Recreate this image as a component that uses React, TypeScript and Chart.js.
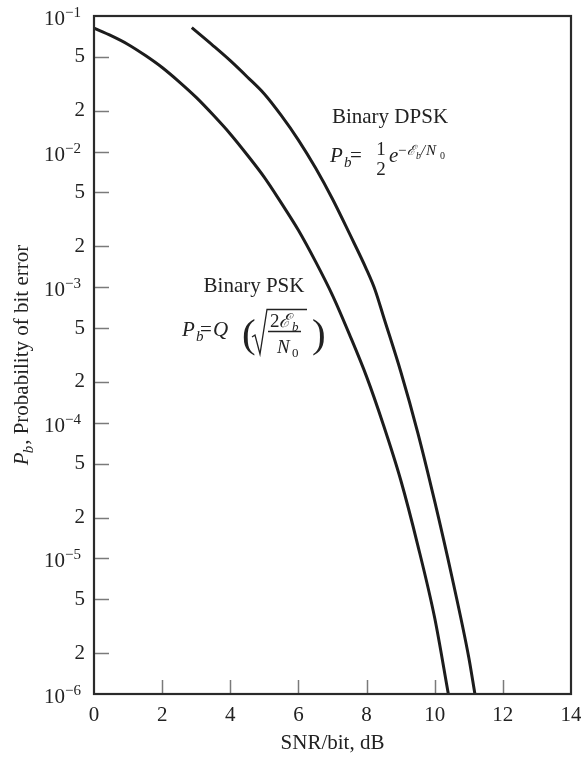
import React, { useEffect, useRef } from "react";
import { Chart, registerables } from "chart.js";

Chart.register(...registerables);

// ---- data ----
const pskSnr = [0, 0.5, 1, 1.5, 2, 2.5, 3, 3.5, 4, 4.5, 5, 5.5, 6, 6.5, 7, 7.5, 8, 8.5, 9, 9.5, 10, 10.4];
const pskPb = [0.0813, 0.0716, 0.0617, 0.0513, 0.0417, 0.0327, 0.0251, 0.0186, 0.0135, 0.00944, 0.00646, 0.00417, 0.00263, 0.00155, 8.71e-4, 4.47e-4, 2.19e-4, 9.55e-5, 3.8e-5, 1.26e-5, 3.63e-6, 1.0e-6];

const dpskSnr = [2.87, 3.5, 4, 4.5, 5, 5.5, 6, 6.5, 7, 7.5, 8, 8.25, 8.5, 9, 9.5, 10, 10.5, 11, 11.18];
const dpskPb = [0.082, 0.0603, 0.0468, 0.0355, 0.0266, 0.0184, 0.01216, 0.00759, 0.00447, 0.00248, 0.00135, 9.55e-4, 6.03e-4, 2.4e-4, 8.51e-5, 2.63e-5, 7.41e-6, 1.86e-6, 1.0e-6];

const xTicks = [0, 2, 4, 6, 8, 10, 12, 14];
const yDecades = [1e-1, 1e-2, 1e-3, 1e-4, 1e-5, 1e-6];
const yDecadeExps = ["\u22121", "\u22122", "\u22123", "\u22124", "\u22125", "\u22126"];
const yMinorTicks = [5e-2, 2e-2, 5e-3, 2e-3, 5e-4, 2e-4, 5e-5, 2e-5, 5e-6, 2e-6];
const yMinorLabels = ["5", "2", "5", "2", "5", "2", "5", "2", "5", "2"];

const FONT = "'Liberation Serif', 'DejaVu Serif', serif";
const INK = "#222222";

function txt(ctx: CanvasRenderingContext2D, s: string, x: number, y: number, size: number, italic = false, align: CanvasTextAlign = "left") {
  ctx.font = `${italic ? "italic " : ""}${size}px ${FONT}`;
  ctx.textAlign = align;
  ctx.textBaseline = "alphabetic";
  ctx.fillText(s, x, y);
}

const decorPlugin = {
  id: "decor",
  afterDraw(chart: any) {
    const { ctx, chartArea, scales } = chart;
    const { left, right, top, bottom } = chartArea;
    const xs = scales.x;
    const ys = scales.y;
    ctx.save();

    // inner tick marks
    ctx.strokeStyle = "#7a7a7a";
    ctx.lineWidth = 1.5;
    const yAll = [...yMinorTicks, ...yDecades.slice(1, -1)];
    yAll.forEach((v) => {
      const py = Math.round(ys.getPixelForValue(v)) + 0.5;
      ctx.beginPath();
      ctx.moveTo(left, py);
      ctx.lineTo(left + 15, py);
      ctx.stroke();
    });
    xTicks.slice(1, -1).forEach((v) => {
      const px = Math.round(xs.getPixelForValue(v)) + 0.5;
      ctx.beginPath();
      ctx.moveTo(px, bottom);
      ctx.lineTo(px, bottom - 14);
      ctx.stroke();
    });

    // frame
    ctx.strokeStyle = "#2a2a2a";
    ctx.lineWidth = 2.2;
    ctx.strokeRect(left, top, right - left, bottom - top);

    ctx.fillStyle = INK;
    // decade labels 10^-n
    yDecades.forEach((v, i) => {
      const py = ys.getPixelForValue(v);
      txt(ctx, "10", 65, py + 9, 21, false, "right");
      txt(ctx, yDecadeExps[i], 65, py + 1, 15, false, "left");
    });

    // y-axis title (rotated)
    ctx.save();
    ctx.translate(28, (top + bottom) / 2);
    ctx.rotate(-Math.PI / 2);
    const rest = ", Probability of bit error";
    ctx.font = `italic 21px ${FONT}`;
    const wP = ctx.measureText("P").width;
    ctx.font = `italic 15px ${FONT}`;
    const wb = ctx.measureText("b").width;
    ctx.font = `21px ${FONT}`;
    const wr = ctx.measureText(rest).width;
    const total = wP + wb + wr;
    let cx = -total / 2;
    txt(ctx, "P", cx, 0, 21, true);
    cx += wP;
    txt(ctx, "b", cx - 1, 5, 15, true);
    cx += wb;
    txt(ctx, rest, cx, 0, 21, false);
    ctx.restore();

    // annotation: Binary DPSK
    txt(ctx, "Binary DPSK", 390, 123, 21, false, "center");
    txt(ctx, "P", 330, 162, 21, true);
    txt(ctx, "b", 344, 167, 15, true);
    txt(ctx, "=", 350, 162, 21, false);
    txt(ctx, "1", 381, 155, 19, false, "center");
    txt(ctx, "2", 381, 175, 19, false, "center");
    txt(ctx, "e", 389, 162, 21, true);
    txt(ctx, "\u2212", 398, 155, 15, false);
    txt(ctx, "\u2130", 407, 155, 14, true);
    txt(ctx, "b", 416, 159, 10, true);
    txt(ctx, "/", 421, 155, 15, true);
    txt(ctx, "N", 426, 155, 15, true);
    txt(ctx, "0", 440, 159, 10, false);

    // annotation: Binary PSK
    txt(ctx, "Binary PSK", 254, 292, 21, false, "center");
    txt(ctx, "P", 182, 336, 21, true);
    txt(ctx, "b", 196, 341, 15, true);
    txt(ctx, "=", 200, 336, 21, false);
    txt(ctx, "Q", 213, 336, 21, true);
    txt(ctx, "(", 242, 347, 41, false);
    txt(ctx, ")", 312, 347, 41, false);
    // radical sign
    ctx.strokeStyle = INK;
    ctx.lineWidth = 1.3;
    ctx.beginPath();
    ctx.moveTo(252, 337);
    ctx.lineTo(255, 335);
    ctx.lineTo(260, 354);
    ctx.lineTo(267, 309.5);
    ctx.lineTo(307, 309.5);
    ctx.stroke();
    txt(ctx, "2", 270, 327, 19, false);
    txt(ctx, "\u2130", 279, 327, 19, true);
    txt(ctx, "b", 292, 331, 13, true);
    ctx.beginPath();
    ctx.moveTo(268, 331.5);
    ctx.lineTo(301, 331.5);
    ctx.stroke();
    txt(ctx, "N", 277, 353, 19, true);
    txt(ctx, "0", 292, 357, 13, false);

    ctx.restore();
  },
};

export default function App() {
  const ref = useRef<HTMLCanvasElement | null>(null);
  useEffect(() => {
    document.body.style.margin = "0";
    const canvas = ref.current;
    if (!canvas) return;
    const lineStyle = {
      borderColor: "#1c1c1c",
      borderWidth: 3,
      pointRadius: 0,
      fill: false,
      cubicInterpolationMode: "monotone" as const,
      tension: 0.4,
    };
    const chart = new Chart(canvas, {
      type: "line",
      data: {
        datasets: [
          { label: "Binary PSK", data: pskSnr.map((x, i) => ({ x, y: pskPb[i] })), ...lineStyle },
          { label: "Binary DPSK", data: dpskSnr.map((x, i) => ({ x, y: dpskPb[i] })), ...lineStyle },
        ],
      },
      options: {
        animation: false,
        responsive: false,
        devicePixelRatio: 1,
        layout: { padding: { top: 16, right: 10, left: 0, bottom: 0 } },
        plugins: { legend: { display: false }, tooltip: { enabled: false } },
        scales: {
          x: {
            type: "linear",
            min: 0,
            max: 14,
            grid: { display: false },
            border: { display: false },
            afterBuildTicks: (axis: any) => {
              axis.ticks = xTicks.map((v) => ({ value: v }));
            },
            afterFit: (axis: any) => {
              axis.height = 63;
              axis.paddingLeft = 0;
              axis.paddingRight = 0;
            },
            ticks: {
              color: INK,
              font: { family: FONT, size: 21 },
              padding: 1,
              maxRotation: 0,
              autoSkip: false,
            },
            title: {
              display: true,
              text: "SNR/bit, dB",
              color: INK,
              font: { family: FONT, size: 21 },
              padding: { top: 0, bottom: 1 },
            },
          },
          y: {
            type: "logarithmic",
            min: 1e-6,
            max: 1e-1,
            grid: { display: false },
            border: { display: false },
            afterBuildTicks: (axis: any) => {
              axis.ticks = yMinorTicks.map((v) => ({ value: v }));
            },
            afterFit: (axis: any) => {
              axis.width = 94;
              axis.paddingTop = 0;
              axis.paddingBottom = 0;
            },
            ticks: {
              color: INK,
              font: { family: FONT, size: 21 },
              padding: 1,
              autoSkip: false,
              callback: (value: any) => {
                const i = yMinorTicks.findIndex((t) => Math.abs(t - Number(value)) / t < 1e-6);
                return i >= 0 ? yMinorLabels[i] : "";
              },
            },
          },
        },
      },
      plugins: [decorPlugin],
    });
    return () => chart.destroy();
  }, []);
  return (
    <div style={{ width: 581, height: 757 }}>
      <canvas ref={ref} width={581} height={757} />
    </div>
  );
}
